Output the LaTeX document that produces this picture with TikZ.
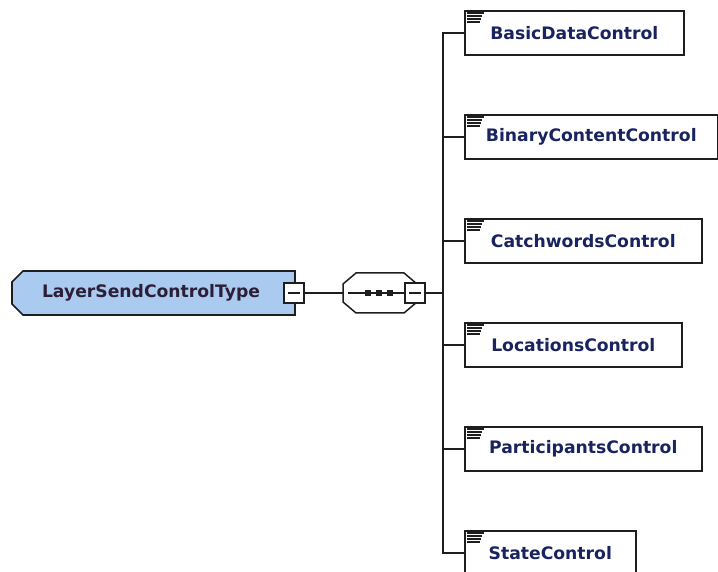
\documentclass[tikz,border=0pt]{standalone}
\usepackage{fontspec}
\setmainfont{DejaVu Sans}
\definecolor{linec}{RGB}{30,30,30}
\definecolor{rootfill}{RGB}{170,202,240}
\definecolor{roottext}{RGB}{45,30,55}
\definecolor{childtext}{RGB}{25,35,95}
\begin{document}
\begin{tikzpicture}[x=1pt,y=-1pt,
  conn/.style={line width=1.5pt, draw=linec},
  lbl/.style={font=\fontsize{17.2}{19}\selectfont\bfseries},
  child/.style={lbl, draw=linec, line width=1.6pt, fill=white, minimum height=44pt, inner sep=0pt, text=childtext, anchor=west},
  minusbox/.style={draw=linec, line width=1.4pt, fill=white, minimum size=20pt, inner sep=0pt,
    path picture={\draw[line width=1.3pt, draw=linec] ([xshift=4pt]path picture bounding box.west) -- ([xshift=-4pt]path picture bounding box.east);}},
  dotsq/.style={fill=linec, draw=none, minimum size=6pt, inner sep=0pt},
  iconline/.style={line width=1.7pt, draw=linec},
]
\useasboundingbox (0,0) rectangle (718,572);
% root element
\draw[fill=rootfill, line width=1.6pt, draw=linec] (23,271) -- (295,271) -- (295,315) -- (23,315) -- (12,304) -- (12,282) -- cycle;
\node[lbl, text=roottext] (root) at (151,293) {LayerSendControlType};
\node[minusbox] (rm) at (294,293) {};
% sequence compositor
\draw[line width=1.5pt, draw=linec, fill=white] (356,273) -- (404,273) -- (417,284) -- (417,302) -- (404,313) -- (356,313) -- (343,302) -- (343,284) -- cycle;
\coordinate (seqin) at (343,293);
\coordinate (seqa) at (348,293);
\node[minusbox] (sm) at (415,293) {};
\draw[conn] (rm) -- (seqin);
\draw[conn] (seqa) -- (sm);
\node[dotsq] (d1) at (368,293) {};
\node[dotsq] (d2) at (379,293) {};
\node[dotsq] (d3) at (390,293) {};
% spine
\coordinate (sp) at (443,293);
\draw[conn] (sm) -- (sp);
% children
\node[child, minimum width=219pt] (c1) at (464,33) {BasicDataControl};
\node[child, minimum width=253pt] (c2) at (464,137) {BinaryContentControl};
\node[child, minimum width=237pt] (c3) at (464,241) {CatchwordsControl};
\node[child, minimum width=217pt] (c4) at (464,345) {LocationsControl};
\node[child, minimum width=237pt] (c5) at (464,449) {ParticipantsControl};
\node[child, minimum width=171pt] (c6) at (464,553) {StateControl};
\foreach \c in {c1,c2,c3,c4,c5,c6}{
  \draw[conn] (sp) |- (\c.west);
  \foreach \i/\l in {0/17,1/15,2/14,3/13}
    \draw[iconline] ([shift={(3,3+3*\i)}]\c.north west) -- ++(\l,0);
}
\end{tikzpicture}
\end{document}
